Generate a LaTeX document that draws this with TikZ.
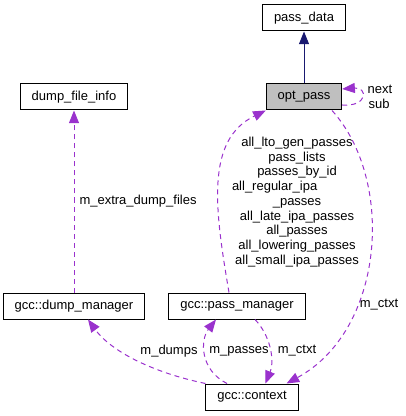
\documentclass[tikz,border=0pt]{standalone}
\usepackage{fontspec}
\setmainfont{Liberation Sans}
\usepackage{tikz}
\usetikzlibrary{arrows.meta}
\definecolor{edgepurple}{HTML}{9A32CD}
\definecolor{edgenavy}{HTML}{191970}
\definecolor{rootgray}{HTML}{BFBFBF}
\tikzstyle{klass}=[draw=black,line width=0.75pt,fill=white,inner xsep=8.5pt,minimum height=19.5pt]
\tikzstyle{lbl}=[text=black,inner sep=0pt,align=center]

\begin{document}
\begin{tikzpicture}[x=0.75pt,y=-0.75pt,font=\fontsize{9.75}{11.06}\selectfont]
      \tikzset{usage/.style = {color=edgepurple,line width=0.75pt,dash pattern=on 3.75pt off 3pt,-{Triangle[length=9.5pt,width=7.5pt]}},
               inherit/.style = {color=edgenavy,line width=0.75pt,-{Triangle[length=9.5pt,width=7.5pt]}}}
      \useasboundingbox (0,0) rectangle (405,416);
      \node[klass] (pd) at (304,18) {pass\_data};
      \node[klass,fill=rootgray] (opt) at (304,97) {opt\_pass};
      \node[klass] (dfi) at (74,97) {dump\_file\_info};
      \node[klass] (dm) at (74,306) {gcc::dump\_manager};
      \node[klass] (pm) at (237,306) {gcc::pass\_manager};
      \node[klass] (ctx) at (252,397) {gcc::context};
      \draw[inherit] (opt) to (pd);
      \draw[usage] ([yshift=-6pt]opt.east) .. controls (368,107) and (368,87) .. ([yshift=6pt]opt.east);
      \node[lbl] (next) at (380,89) {next};
      \node[lbl] (sub) at (379,104) {sub};
      \draw[usage] ([xshift=-6pt]pm.north) .. controls (215,210) and (205,140) .. (opt.south west);
      \node[lbl] (passes) at (297,202) {all\_lto\_gen\_passes\\pass\_lists\\passes\_by\_id\\\makebox[97.5pt][l]{all\_regular\_ipa}\\\_passes\\all\_late\_ipa\_passes\\all\_passes\\all\_lowering\_passes\\all\_small\_ipa\_passes};
      \draw[usage] ([xshift=21pt]opt.south) .. controls (395,180) and (385,330) .. ([xshift=-9pt]ctx.north east);
      \node[lbl] (ctxa) at (379,305) {m\_ctxt};
      \draw[usage] (dm) to node[lbl,right=3.75pt] {m\_extra\_dump\_files} (dfi);
      \draw[usage] (ctx.north west) .. controls (150,372) and (110,350) .. ([xshift=10.5pt]dm.south);
      \node[lbl] (dumps) at (169,351) {m\_dumps};
      \draw[usage] ([xshift=-18.75pt]ctx.north) .. controls (200,370) and (200,340) .. ([xshift=-15.75pt]pm.south);
      \node[lbl] (mpass) at (239,351) {m\_passes};
      \draw[usage] ([xshift=13.5pt]pm.south) .. controls (270,335) and (275,360) .. ([xshift=10pt]ctx.north);
      \node[lbl] (ctxb) at (297,351) {m\_ctxt};
\end{tikzpicture}
\end{document}
